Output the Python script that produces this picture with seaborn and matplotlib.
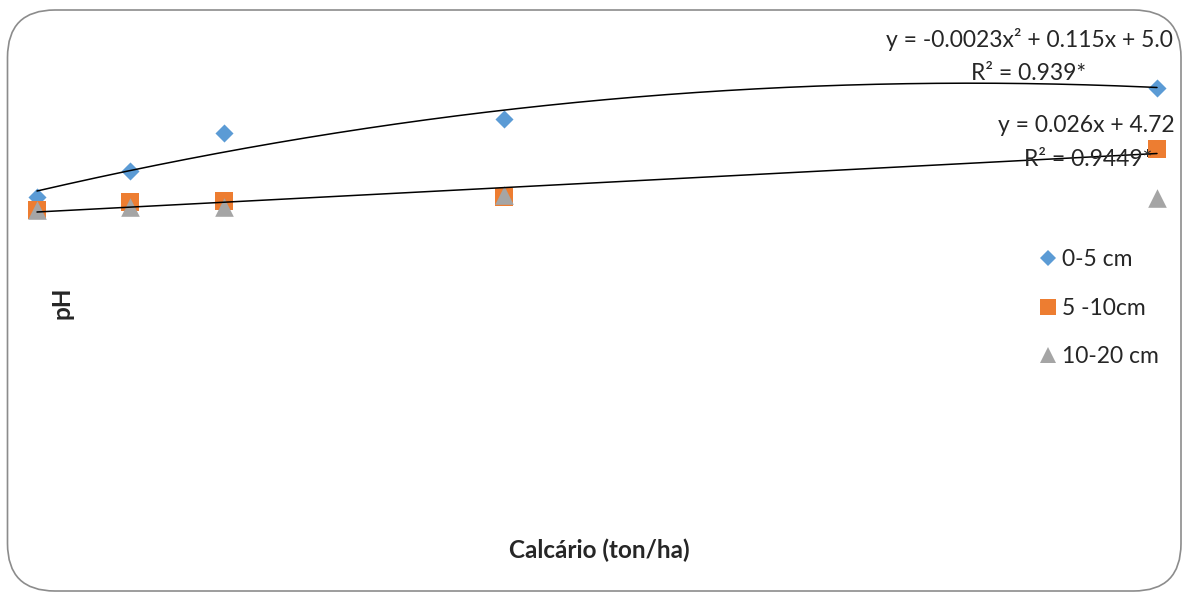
import numpy as np
import pandas as pd
import matplotlib
matplotlib.use("Agg")
import matplotlib.pyplot as plt
from matplotlib.lines import Line2D
from matplotlib.patches import FancyBboxPatch
import seaborn as sns

# Lime rates (ton/ha) and soil pH at three depths
calcario = [0, 2.5, 5, 12.5, 30]
ph_0_5 = [4.92, 5.27, 5.77, 5.96, 6.37]
ph_5_10 = [4.75, 4.85, 4.87, 4.92, 5.56]
ph_10_20 = [4.75, 4.79, 4.79, 4.95, 4.91]

series_labels = ["0-5 cm", "5 -10cm", "10-20 cm"]

# Trendline coefficients as reported in the equations
quad_coef = [-0.0023, 0.115, 5.0]
lin_coef = [0.026, 4.72]

sns.set_theme(style="white")
plt.rcParams["font.family"] = ["Lato", "DejaVu Sans"]

W, H = 1184, 593
fig = plt.figure(figsize=(W / 100, H / 100), dpi=100)
fig.patch.set_facecolor("white")

# rounded chart border
border = FancyBboxPatch((7.5 / W, 2.0 / H), (1181 - 7.5) / W, (583 - 2.0) / H,
                        boxstyle="round,pad=0,rounding_size=0.04",
                        transform=fig.transFigure, facecolor="none",
                        edgecolor="#8c8c8c", linewidth=1.2, mutation_aspect=W / H)
fig.patches.append(border)

ax = fig.add_axes([37 / W, (H - 566) / H, (1157 - 37) / W, (566 - 41) / H])
ax.set_xlim(0, 30)
ax.set_ylim(0, 7)
ax.set_facecolor("none")
for s in ax.spines.values():
    s.set_visible(False)
ax.set_xticks([])
ax.set_yticks([])

blue, orange, gray = "#5B9BD5", "#ED7D31", "#A5A5A5"

df = pd.DataFrame({"x": calcario, "a": ph_0_5, "b": ph_5_10, "c": ph_10_20})
sns.scatterplot(data=df, x="x", y="a", ax=ax, marker="D", s=9.2 ** 2,
                color=blue, linewidth=0, clip_on=False, zorder=3)
sns.scatterplot(data=df, x="x", y="b", ax=ax, marker="s", s=13.4 ** 2,
                color=orange, linewidth=0, clip_on=False, zorder=3)
sns.scatterplot(data=df, x="x", y="c", ax=ax, marker="^", s=13.4 ** 2,
                color=gray, linewidth=0, clip_on=False, zorder=3)
ax.set_xlabel("")
ax.set_ylabel("")

xs = np.linspace(0, 30, 300)
ax.plot(xs, np.polyval(quad_coef, xs), color="black", lw=1.1, zorder=5, clip_on=False)
ax.plot(xs, np.polyval(lin_coef, xs), color="black", lw=1.1, zorder=5, clip_on=False)

fs = 16.5
eq_lines = [
    ("y = -0.0023x² + 0.115x + 5.0", 1029, 47),
    ("R² = 0.939*", 1029, 80),
    ("y = 0.026x + 4.72", 1086, 132),
    ("R² = 0.9449*", 1088, 166),
]
for txt, px, py in eq_lines:
    fig.text(px / W, 1 - py / H, txt, ha="center", va="baseline",
             fontsize=fs, zorder=4)

handles = [
    Line2D([], [], marker="D", ls="none", color=blue, ms=8.0, mew=0),
    Line2D([], [], marker="s", ls="none", color=orange, ms=11.5, mew=0),
    Line2D([], [], marker="^", ls="none", color=gray, ms=11.5, mew=0),
]
fig.legend(handles, series_labels, loc="upper left",
           bbox_to_anchor=(1023 / W, 1 - 238 / H), frameon=False,
           fontsize=fs, labelspacing=1.2, handletextpad=0.0,
           handlelength=1.2, borderpad=0)

fig.text(62 / W, 1 - 303 / H, "pH", rotation=90, ha="center", va="center",
         fontsize=17.5, fontweight="bold")
fig.text(599 / W, 1 - 550 / H, "Calcário (ton/ha)", ha="center", va="center",
         fontsize=17.5, fontweight="bold")

fig.savefig("out.png", dpi=100)
